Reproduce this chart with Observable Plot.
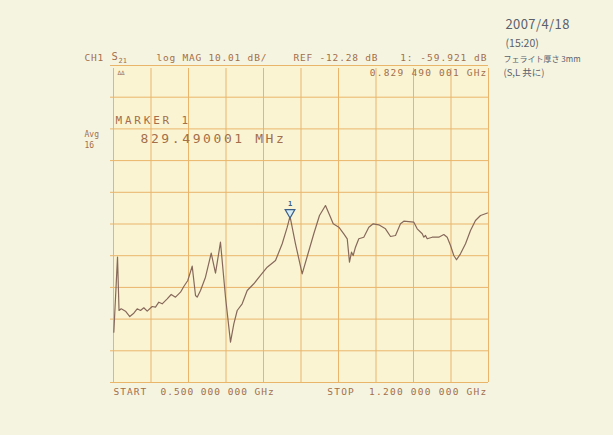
<!DOCTYPE html>
<html>
<head>
<meta charset="utf-8">
<script src="https://cdn.jsdelivr.net/npm/d3@7"></script>
<script src="https://cdn.jsdelivr.net/npm/@observablehq/plot@0.6"></script>
<style>
  html, body { margin: 0; padding: 0; background: #f5f4e1; }
  #chart svg { display: block; background: transparent; }
</style>
</head>
<body>
<div id="chart"></div>
<script>
// S21 log MAG trace (frequency in GHz, magnitude in dB)
const freqGHz = [0.5006,0.5075,0.5103,0.5144,0.5224,0.5304,0.5379,0.5442,0.5504,0.5566,0.5629,0.5722,0.5784,0.5846,0.5909,0.6002,0.6077,0.6157,0.6251,0.6312,0.6387,0.6469,0.6531,0.6562,0.6624,0.6717,0.6824,0.6904,0.6997,0.7091,0.7184,0.7246,0.7309,0.7402,0.7496,0.7619,0.7744,0.7869,0.8024,0.8149,0.8243,0.8295,0.8397,0.8522,0.8621,0.8739,0.8845,0.8957,0.9051,0.9101,0.9206,0.9299,0.9363,0.9405,0.9443,0.9474,0.9517,0.9579,0.9672,0.9766,0.9848,0.9952,1.0077,1.0171,1.0264,1.0357,1.0419,1.0606,1.0669,1.0763,1.0793,1.0824,1.0856,1.0949,1.1072,1.1166,1.1229,1.1291,1.1352,1.1403,1.1477,1.1571,1.1664,1.1757,1.1851,1.1981];
const magDB = [-96.50,-72.75,-89.64,-89.11,-89.86,-91.54,-90.50,-89.11,-89.64,-88.79,-89.86,-88.38,-88.60,-87.02,-87.53,-85.95,-84.59,-85.44,-83.86,-82.06,-80.17,-75.65,-84.91,-85.44,-83.33,-79.13,-71.55,-77.87,-68.08,-85.44,-99.65,-93.84,-89.64,-87.53,-83.33,-81.21,-78.59,-75.97,-73.86,-68.58,-63.34,-59.92,-68.58,-78.06,-72.28,-65.42,-59.65,-56.49,-60.18,-62.27,-63.34,-65.42,-67.00,-74.39,-71.23,-72.28,-69.66,-67.00,-66.50,-63.34,-62.27,-62.58,-63.85,-66.28,-65.96,-62.27,-61.45,-61.76,-63.85,-65.42,-66.50,-65.96,-67.00,-66.50,-66.50,-65.65,-66.50,-69.12,-72.28,-73.63,-71.74,-68.58,-64.38,-61.22,-59.65,-58.86];

// Instrument settings
const startGHz = 0.5, stopGHz = 1.2;
const refDB = -12.28, dbPerDiv = 10.01, divisions = 10;
const markerGHz = [0.82949];
const markerDB = [-59.921];

// grid divisions (10 x 10)
const xGrid = [0.50,0.57,0.64,0.71,0.78,0.85,0.92,0.99,1.06,1.13,1.20];
const yGrid = [-12.28,-22.29,-32.30,-42.31,-52.32,-62.33,-72.34,-82.35,-92.36,-102.37,-112.38];

// Texts
const hdrCh = "CH1", hdrS = "S", hdrSub = "21", hdrFmt = "log MAG", hdrScale = "10.01 dB/";
const hdrRef = "REF -12.28 dB", hdrMk = "1: -59.921 dB", hdrMkF = "0.829 490 001 GHz";
const mkTitle = "MARKER 1", mkFreq = "829.490001 MHz";
const avgLbl = "Avg", avgN = "16", statLbl = "ΔΔ";
const startLbl = "START  0.500 000 000 GHz", stopLbl = "STOP  1.200 000 000 GHz";
const note1 = "2007/4/18", note2 = "(15:20)", note3 = "フェライト厚さ 3mm", note4 = "(S,L 共に)";

const trace = freqGHz.map((f, i) => ({f, db: magDB[i]}));
const marker = markerGHz.map((f, i) => ({f, db: markerDB[i]}));

const ink = "#a26f4a";
const mono = "DejaVu Sans Mono";
const hand = "Noto Sans CJK JP";
const spacingOf = new Map(); // text -> letter spacing, applied after render

function lab(str, dx, dy, o = {}) {
  spacingOf.set(str, o.ls ?? 0);
  return Plot.text([str], {
    text: d => d, frameAnchor: "top-left", dx, dy,
    textAnchor: o.anchor || "start", lineAnchor: "middle",
    fontFamily: o.family || mono, fontSize: o.size || 9.5,
    fill: o.fill || ink, fontWeight: o.weight || "normal"
  });
}

const L = 113, T = 65; // frame origin used as reference for annotation offsets
const hw = "#5a5f6b";

const plot = Plot.plot({
  width: 613, height: 435,
  marginLeft: 113, marginRight: 125, marginTop: 65, marginBottom: 53,
  x: {domain: [startGHz, stopGHz], axis: null},
  y: {domain: [refDB - dbPerDiv * divisions, refDB], axis: null},
  style: {background: "transparent", overflow: "visible"},
  marks: [
    Plot.frame({fill: "#fbf4d3", stroke: null}),
    Plot.ruleX(xGrid, {stroke: "#e9b56b", strokeWidth: 1, y1: yGrid[yGrid.length-1], y2: yGrid[0], insetBottom: -3}),
    Plot.ruleY(yGrid, {stroke: "#e9b56b", strokeWidth: 1, insetLeft: -3}),
    Plot.line(trace, {x: "f", y: "db", stroke: "#86695a", strokeWidth: 1.2, strokeLinejoin: "round"}),
    Plot.dot(marker, {x: "f", y: "db", symbol: "triangle", rotate: 180, r: 3.6, dy: -4, fill: "#d6ecf4", stroke: "#3b5f88", strokeWidth: 1.2}),
    Plot.text(marker, {x: "f", y: "db", text: () => "1", dy: -13, fontSize: 7, fontFamily: mono, fill: "#3b5f88", fontWeight: "bold"}),
    // header line
    lab(hdrCh, 84 - L, 57 - T, {ls: 0.8}),
    lab(hdrS, 111 - L, 56 - T, {size: 10.5}),
    lab(hdrSub, 118 - L, 60 - T, {size: 7}),
    lab(hdrFmt, 156 - L, 57 - T, {ls: 0.8}),
    lab(hdrScale, 208 - L, 57 - T, {ls: 0.8}),
    lab(hdrRef, 293 - L, 57 - T, {ls: 0.8}),
    lab(hdrMk, 487 - L, 57 - T, {anchor: "end", ls: 1}),
    lab(hdrMkF, 487 - L, 72 - T, {anchor: "end", ls: 1.2}),
    lab(statLbl, 117 - L, 73 - T, {size: 6}),
    lab(mkTitle, 115 - L, 120 - T, {size: 11, ls: 2.8}),
    lab(mkFreq, 140 - L, 138 - T, {size: 13, ls: 2.6}),
    lab(avgLbl, 84 - L, 134 - T, {size: 8}),
    lab(avgN, 84 - L, 145 - T, {size: 8}),
    lab(startLbl, 113 - L, 391 - T, {ls: 1}),
    lab(stopLbl, 487 - L, 391 - T, {anchor: "end", ls: 1.25}),
    // handwritten notes
    lab(note1, 505 - L, 24 - T, {family: hand, size: 13, fill: hw, ls: 0.4}),
    lab(note2, 505 - L, 43 - T, {family: hand, size: 10.5, fill: hw}),
    lab(note3, 503 - L, 59 - T, {family: hand, size: 8, fill: hw}),
    lab(note4, 503 - L, 72 - T, {family: hand, size: 9.5, fill: hw})
  ]
});

plot.querySelectorAll("text").forEach(t => {
  const ls = spacingOf.get(t.textContent);
  if (ls) t.style.letterSpacing = ls + "px";
});
document.getElementById("chart").appendChild(plot);
</script>
</body>
</html>
